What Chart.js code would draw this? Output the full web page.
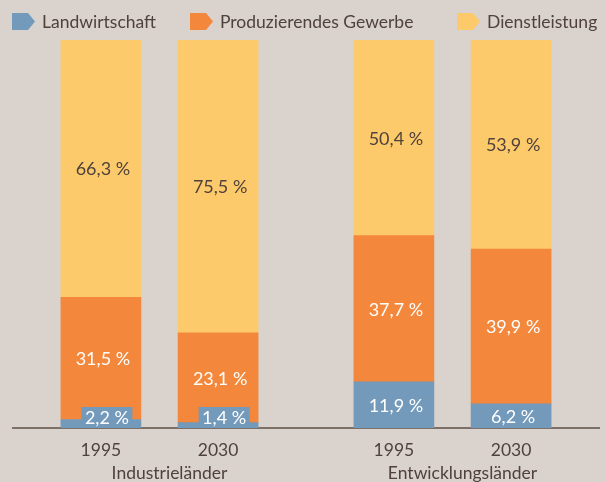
<!DOCTYPE html>
<html lang="de">
<head>
<meta charset="UTF-8">
<title>Erwerbstätige nach Sektoren</title>
<script src="https://cdn.jsdelivr.net/npm/chart.js@4.4.1/dist/chart.umd.min.js"></script>
<style>
  * { margin: 0; padding: 0; box-sizing: border-box; }
  body { background: #d9d2cd; width: 606px; height: 482px; overflow: hidden; }
  #chart { display: block; }
</style>
</head>
<body>
<canvas id="chart" width="606" height="482"></canvas>
<script>
/* ---------- data ---------- */
const categories = ['1995', '2030', '1995', '2030'];
const groups = ['Industrieländer', 'Entwicklungsländer'];
const groupOf = [0, 0, 1, 1];
const seriesNames = ['Landwirtschaft', 'Produzierendes Gewerbe', 'Dienstleistung'];
const landwirtschaft = [2.2, 1.4, 11.9, 6.2];
const produzierendes = [31.5, 23.1, 37.7, 39.9];
const dienstleistung = [66.3, 75.5, 50.4, 53.9];

/* ---------- look ---------- */
const colors = ['#7399bb', '#f3873b', '#fdca6b'];
const labelColors = ['#ffffff', '#ffffff', '#4f423b'];
const textColor = '#4f423b';
const fontFamily = 'Lato, "Open Sans", sans-serif';
// 10 slots along the axis, bars sit in slots 1, 3, 6, 8 (gap between groups)
const slotCount = 10;
const slotOfBar = [1, 3, 6, 8];
const legendLeft = [12, 190, 457];

const slotLabels = new Array(slotCount).fill('');
slotOfBar.forEach((s, i) => { slotLabels[s] = categories[i]; });
const toSlots = (values) => {
  const arr = new Array(slotCount).fill(null);
  slotOfBar.forEach((s, i) => { arr[s] = values[i]; });
  return arr;
};
const fmt = (v) => v.toFixed(1).replace('.', ',') + ' %';

/* ---------- legend with arrow markers ---------- */
const arrowLegend = {
  id: 'arrowLegend',
  afterDraw(chart) {
    const ctx = chart.ctx;
    ctx.save();
    ctx.font = '17.5px ' + fontFamily;
    ctx.textBaseline = 'middle';
    ctx.textAlign = 'left';
    const mw = 23, mh = 17, gap = 7;
    const cy = 21.5;
    seriesNames.forEach((name, i) => {
      const x = legendLeft[i];
      ctx.fillStyle = colors[i];
      ctx.beginPath();
      ctx.moveTo(x, cy - mh / 2);
      ctx.lineTo(x + mw - 7, cy - mh / 2);
      ctx.lineTo(x + mw, cy);
      ctx.lineTo(x + mw - 7, cy + mh / 2);
      ctx.lineTo(x, cy + mh / 2);
      ctx.closePath();
      ctx.fill();
      ctx.fillStyle = textColor;
      ctx.fillText(name, x + mw + gap, cy + 1);
    });
    ctx.restore();
  }
};

/* ---------- values in the bars + group names ---------- */
const valueLabels = {
  id: 'valueLabels',
  afterDatasetsDraw(chart) {
    const ctx = chart.ctx;
    ctx.save();
    ctx.font = '18px ' + fontFamily;
    ctx.textAlign = 'center';
    ctx.textBaseline = 'middle';
    chart.data.datasets.forEach((ds, di) => {
      const meta = chart.getDatasetMeta(di);
      meta.data.forEach((el, i) => {
        const v = ds.data[i];
        if (v == null) return;
        const p = el.getProps(['x', 'y', 'base'], true);
        const txt = fmt(v);
        if (v < 3) {
          const w = ctx.measureText(txt).width;
          const cx = p.x + 6;
          ctx.fillStyle = ds.backgroundColor;
          ctx.fillRect(cx - w / 2 - 3.5, p.base - 21, w + 7, 21);
          ctx.fillStyle = labelColors[di];
          ctx.fillText(txt, cx, p.base - 10);
        } else {
          ctx.fillStyle = labelColors[di];
          ctx.fillText(txt, p.x + 2, (p.y + p.base) / 2 + 1);
        }
      });
    });
    // group names under the years
    const xs = chart.scales.x;
    ctx.font = '17.5px ' + fontFamily;
    ctx.fillStyle = textColor;
    groups.forEach((g, gi) => {
      const idx = slotOfBar.filter((s, i) => groupOf[i] === gi);
      const mid = idx.reduce((a, s) => a + xs.getPixelForValue(s), 0) / idx.length;
      ctx.fillText(g, mid + 10, 473);
    });
    ctx.restore();
  }
};

new Chart(document.getElementById('chart'), {
  type: 'bar',
  data: {
    labels: slotLabels,
    datasets: [
      { label: seriesNames[0], data: toSlots(landwirtschaft), backgroundColor: colors[0] },
      { label: seriesNames[1], data: toSlots(produzierendes), backgroundColor: colors[1] },
      { label: seriesNames[2], data: toSlots(dienstleistung), backgroundColor: colors[2] }
    ]
  },
  options: {
    responsive: false,
    devicePixelRatio: 1,
    animation: false,
    layout: { padding: { top: 40, left: 13, right: 7, bottom: 0 } },
    datasets: { bar: { barThickness: 80, borderWidth: 0 } },
    plugins: { legend: { display: false }, tooltip: { enabled: false } },
    scales: {
      x: {
        stacked: true,
        offset: true,
        grid: { display: false, drawTicks: false },
        border: { display: true, color: '#7d7068', width: 2 },
        ticks: {
          autoSkip: false, maxRotation: 0, padding: 12,
          color: textColor, font: { family: fontFamily, size: 17.5 }
        },
        afterFit: (s) => { s.height = 54; }
      },
      y: { stacked: true, min: 0, max: 100, display: false }
    }
  },
  plugins: [valueLabels, arrowLegend]
});
</script>
</body>
</html>
